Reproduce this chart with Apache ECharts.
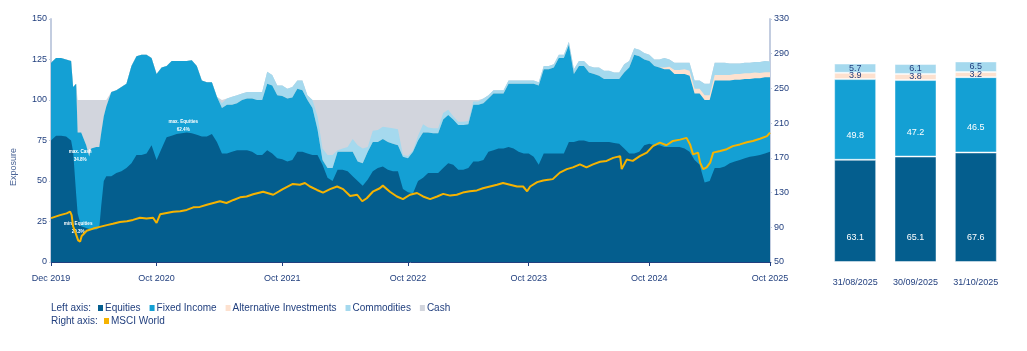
<!DOCTYPE html>
<html>
<head>
<meta charset="utf-8">
<script src="https://cdn.jsdelivr.net/npm/echarts@6/dist/echarts.min.js"></script>
<style>
html,body{margin:0;padding:0;background:#fff;}
#chart{width:1027px;height:351px;}
</style>
</head>
<body>
<div id="chart"></div>
<script>
// x axis: period index (about half a month each), Dec 2019 = 0, Oct 2025 = 143
var period = [
  0, 1, 2, 3, 4, 4.4, 5, 5.3, 6, 7, 7.6, 8, 9, 9.6, 10, 10.5, 11, 12,
  13, 14, 15, 16, 17, 18, 19, 20, 21, 22, 23, 24, 25, 26, 27, 28, 29, 30, 31, 32, 33,
  34, 35, 36, 37, 38, 39, 40, 41, 42, 43, 44, 45, 46, 47, 48, 49, 50, 51, 52, 53,
  54, 55, 56, 57, 58, 59, 60, 61, 62, 63, 64, 65, 66, 67, 68, 69, 70, 71, 72, 73, 74, 75, 76, 77, 78, 79, 80, 81, 82, 83,
  84, 85, 86, 87, 88, 89, 90, 91, 92, 93, 94, 95, 96, 97, 98, 99, 100, 101, 102, 103,
  104, 105, 106, 107, 108, 109, 110, 111, 112, 113, 114, 115, 116, 117, 118, 119, 120, 121,
  122, 123, 124, 125, 126, 127, 128, 129, 130, 131, 132, 133, 134, 135, 136, 137, 138, 139, 140, 141, 142, 143
];
var equities = [
  75, 78, 78, 77.5, 75, 68, 42, 30, 22, 21, 20.3, 20, 20, 21, 35, 50, 53, 53,
  55, 56, 58, 61, 66, 66, 67, 72, 63, 70, 77, 78, 79, 79.5, 80, 79.5, 78.5, 77.5, 77.5, 79, 74,
  67, 67, 68, 69, 69, 69, 68, 66, 66, 69, 67, 64, 63.5, 62, 63, 68, 68, 67, 66, 66,
  60, 52, 50, 57, 57, 56, 53, 50, 47, 51, 56, 58, 59, 57, 56, 56, 45, 43, 42.5, 50, 52, 55, 55, 55, 58, 61, 60, 57, 57, 58,
  62, 62, 63, 68, 69, 70, 70, 71, 70, 68, 67, 67, 65, 60, 67, 67, 67, 67, 67, 74,
  74, 75, 75, 74, 74, 74, 74, 74, 73.5, 73, 70, 67, 67, 68, 72, 73, 72, 72,
  71, 71, 71, 71, 70, 68, 63, 60, 49, 50, 58, 58, 59, 61, 62, 63, 64, 65, 65.5, 66, 67, 68
];
var fixedIncome = [
  48, 48, 48, 47.5, 49, 40, 68, 50, 58, 51, 44.9, 50, 51, 50, 45, 40, 43, 52,
  51, 52, 52, 60, 61, 62, 61, 54, 53, 50, 44, 46, 45, 44.5, 44, 45, 42.5, 34.5, 33.5, 32, 28,
  28, 30, 29, 29, 31, 32, 33, 34, 34, 41, 42, 39, 39, 39, 38.5, 39, 38, 33, 29, 16,
  3, 6, 8, 11, 11, 12, 15, 12, 14, 17, 18, 16, 17, 17, 17, 16, 20, 21, 25.5, 25, 28, 25, 24.5, 24.5, 30, 29.7, 28, 27.6, 27.6, 27,
  35, 35, 35, 33, 35, 34, 34, 39, 40, 42, 43, 43, 45, 49, 52, 52, 53, 59, 59, 60,
  42, 46, 46, 43, 42, 41, 39, 39, 39.5, 40, 47, 53, 61, 59, 53, 51, 49, 48,
  48, 48, 45, 45, 46, 47, 41, 44, 51, 50, 54, 54, 53, 51, 50.5, 49.5, 49, 48, 48, 47.5, 47, 46
];
var altInvest = [
  0, 0, 0, 0, 0, 0, 0, 0, 0, 0, 0, 0, 0, 0, 0, 0, 0, 0,
  0, 0, 0, 0, 0, 0, 0, 0, 0, 0, 0, 0, 0, 0, 0, 0, 0, 0, 0, 0, 0,
  0, 0, 0, 0, 0, 0, 0, 0, 0, 0, 0, 0, 0, 0, 0, 0, 0, 0, 0, 0,
  0, 0, 0, 0, 0, 0, 0, 0, 0, 0, 0, 0, 0, 0, 0, 0, 0, 0, 0, 0, 0, 0, 0, 0, 0, 0, 0, 0, 0, 0,
  0, 0, 0, 0, 0, 0, 0, 0, 0, 0, 0, 0, 0, 0, 0, 0, 0, 0, 0, 0,
  0, 0, 0, 0, 0, 0, 0, 0, 0, 0, 0, 0, 0, 0, 0, 0, 0, 0,
  1, 1.5, 2.5, 2.5, 3, 3, 3, 3, 3, 3, 3.5, 3.5, 3.5, 3.5, 3.5, 3.5, 3.5, 3.5, 3.5, 3.2, 3.2, 3.2
];
var commodities = [
  0, 0, 0, 0, 0, 0, 0, 0, 0, 0, 0, 0, 0, 0, 0, 0, 0, 0,
  0, 0, 0, 0, 0, 0, 0, 0, 0, 0, 0, 0, 0, 0, 0, 0, 0, 0, 0, 0, 0,
  3, 4, 5, 5, 4, 4, 4, 5, 5, 7.5, 6.5, 6, 6.5, 6, 6.5, 5, 6, 3, 5, 8,
  7, 8, 8, 1, 2, 3, 8, 10, 9, 3, 7, 7.5, 7.5, 9, 9.5, 10, 1, 1.5, 1, 3, 5, 3, 3, 3, 4, 3.3, 2, 2, 2, 2,
  2, 2, 3, 2, 2, 2, 2, 2, 2, 2, 2, 2, 2, 2, 2, 2, 2, 2, 2, 2,
  3, 3, 3, 4, 4, 5, 5, 5, 4, 4, 5, 4, 4, 4, 4, 4, 4, 5,
  6, 4.5, 4.5, 4.5, 4, 5, 5, 5, 7, 7, 7.5, 7.5, 7.5, 7, 6.5, 6.5, 6.5, 6.5, 6.5, 6.8, 6.8, 6.6
];
var cash = [
  0, 0, 0, 0, 0, 0, 0, 20, 20, 28, 34.8, 30, 29, 29, 20, 10, 4, 0,
  0, 0, 0, 0, 0, 0, 0, 0, 0, 0, 0, 0, 0, 0, 0, 0, 0, 0, 0, 0, 0,
  2, 0, 0, 0, 0, 0, 0, 0, 0, 0, 0, 0, 0, 0, 0, 0, 0, 0, 0, 10,
  30, 34, 34, 31, 30, 29, 24, 28, 30, 29, 19, 18.5, 16.5, 17, 17.5, 18, 34, 34.5, 31, 22, 15, 17, 17.5, 17.5, 8, 6, 10, 13.4, 13.4, 13,
  1, 1, 0, 0, 0, 0, 0, 0, 0, 0, 0, 0, 0, 0, 0, 0, 0, 0, 0, 0,
  0, 0, 0, 0, 0, 0, 0, 0, 0, 0, 0, 0, 0, 0, 0, 0, 0, 0,
  0, 0, 0, 0, 0, 0, 0, 0, 0, 0, 0, 0, 0, 0, 0, 0, 0, 0, 0, 0, 0, 0
];

// MSCI World, right axis
var msciPeriod = [
  0, 1.8, 3.1, 3.8, 4.1, 4.4, 4.8, 5.1, 5.4, 5.8, 6.1, 6.4, 7.1, 8.4, 9.7, 11.1, 12.3, 13.7, 15.1, 16.3,
  17.7, 19, 20.3, 21, 21.7, 23, 24.3, 25.7, 27, 28.3, 29.6, 31, 32.3, 33.6, 34.9, 36.3, 37.6, 38.9, 40.2, 42.2,
  44.2, 46.1, 48.1, 49.5, 50.5, 51.5, 52.9, 54.1, 55.5, 56.9, 58.1, 59.5, 60.9, 61.9, 62.8, 64, 65.4, 66, 67.4, 68.8,
  70, 71.4, 72.8, 74, 75.4, 76.8, 78, 79.4, 80.7, 81.9, 83.3, 84.7, 85.9, 87.3, 88.7, 89.9, 91.3, 92.7, 93.9, 94.7,
  95.3, 96.7, 97.9, 99.2, 99.8, 101.2, 102.6, 103.8, 105.2, 106.5, 107.8, 109.2, 110.5, 111.8, 113.2, 113.5, 114.5, 115.7, 117.1, 118.5,
  119.7, 121.1, 122.4, 123.7, 125.1, 126.4, 127.1, 127.7, 128.7, 129.1, 129.7, 130.4, 131.1, 131.7, 133.1, 134.4, 135.6, 137, 138.4, 139.6,
  141, 142.4, 143
];
var msciValue = [
  100.5, 104, 106, 108, 104, 91, 85, 83, 75, 73.5, 80, 78, 86, 88.5, 90.5, 92.5, 94, 96, 97, 98.5,
  101, 100, 101, 95, 105, 106.5, 108, 108.5, 110, 113, 113.5, 116, 118, 120, 118, 121.5, 124.5, 125.5, 128, 131,
  127.5, 134, 140, 139, 141, 137, 133, 130, 134, 137, 134, 126, 127.5, 120, 123.5, 131, 135, 138, 131, 125.5,
  122.5, 127.5, 129.5, 125.5, 122.5, 125.5, 128.5, 126.5, 127.5, 130, 131.5, 132.5, 135, 137, 139, 141, 139, 137, 137, 131.5,
  137, 142, 144, 145, 145.5, 153, 157, 159, 162.5, 159, 162.5, 165.5, 166.5, 170, 172, 157, 168, 166.5, 172, 176,
  183.5, 187.5, 184.5, 189.5, 191, 193, 185.5, 174, 176, 164.5, 157, 159, 164.5, 176, 178, 180, 183.5, 185.5, 188, 189.5,
  192, 195, 199
];

var xTickAt = [0, 21, 46, 71, 95, 119, 143];
var xTickText = ['Dec 2019', 'Oct 2020', 'Oct 2021', 'Oct 2022', 'Oct 2023', 'Oct 2024', 'Oct 2025'];

// month-end snapshot bars
var barDates = ['31/08/2025', '30/09/2025', '31/10/2025'];
var barEquities = [63.1, 65.1, 67.6];
var barFixedIncome = [49.8, 47.2, 46.5];
var barAltInvest = [3.9, 3.8, 3.2];
var barCommodities = [5.7, 6.1, 6.5];

var txt = '#213f7e';
var font = 'Liberation Sans, Arial, sans-serif';
var colors = {
    'Equities': '#045e8e',
    'Fixed Income': '#14a0d4',
    'Alternative Investments': '#fde1cf',
    'Commodities': '#a5d9ee',
    'Cash': '#d2d5dd',
    'MSCI World': '#f6b300'
};

// stack the exposure layers (bottom to top) into running tops
var layerNames = ['Equities', 'Fixed Income', 'Alternative Investments', 'Commodities', 'Cash'];
var layerValues = [equities, fixedIncome, altInvest, commodities, cash];
var running = period.map(function(){ return 0; });
var layerTops = layerValues.map(function(vals){
    running = running.map(function(s, i){ return s + vals[i]; });
    return running.slice();
});

function pairs(xs, ys){
    return xs.map(function(x, i){ return [x, ys[i]]; });
}

function area(k){
    var name = layerNames[k];
    return {
        name: name, type: 'line', xAxisIndex: 0, yAxisIndex: 0,
        data: pairs(period, layerTops[k]), symbol: 'none', silent: true,
        lineStyle: {width: 0}, itemStyle: {color: colors[name]},
        areaStyle: {color: colors[name], opacity: 1, origin: 'start'}
    };
}

function bar(name, values, labelColor, inBottom){
    return {
        name: name, type: 'bar', stack: 'bar', xAxisIndex: 1, yAxisIndex: 2,
        data: values, barWidth: 42, silent: true,
        itemStyle: {color: colors[name], borderColor: 'rgba(255,255,255,0.45)', borderWidth: 1},
        label: {
            show: true, color: labelColor, fontSize: 9, fontFamily: font,
            position: inBottom ? 'insideBottom' : 'inside', distance: inBottom ? 20 : 0
        }
    };
}

// top layer first, so lower layers paint over it
var areaSeries = [4, 3, 2, 1, 0].map(area);
areaSeries[4].markPoint = {
    symbol: 'circle', symbolSize: 1, silent: true,
    itemStyle: {color: 'rgba(0,0,0,0)'},
    label: {show: true, position: 'inside', color: '#fff', fontSize: 4.6, fontWeight: 'bold', lineHeight: 7.5, fontFamily: font},
    data: [
        {coord: [5.8, 65.7], label: {formatter: 'max. Cash\n34.8%'}},
        {coord: [5.4, 21.3], label: {formatter: 'min. Equities\n20.3%'}},
        {coord: [26.3, 84], label: {formatter: 'max. Equities\n62.4%'}}
    ]
};

var chart = echarts.init(document.getElementById('chart'));
chart.setOption({
    animation: false,
    textStyle: {fontFamily: font},
    grid: [
        {left: 51, right: 257, top: 19, bottom: 89},
        {left: 825, right: 21, top: 19, bottom: 89}
    ],
    legend: [
        {
            left: 98, top: 303, icon: 'rect', itemWidth: 5, itemHeight: 6, itemGap: 9,
            selectedMode: false, padding: 0,
            textStyle: {color: txt, fontSize: 10, fontFamily: font, padding: [0, 0, 0, -3]},
            data: ['Equities', 'Fixed Income', 'Alternative Investments', 'Commodities', 'Cash']
        },
        {
            left: 104, top: 316, icon: 'rect', itemWidth: 5, itemHeight: 6,
            selectedMode: false, padding: 0,
            textStyle: {color: txt, fontSize: 10, fontFamily: font, padding: [0, 0, 0, -3]},
            data: ['MSCI World']
        }
    ],
    graphic: [
        {type: 'text', left: 51, top: 303, style: {text: 'Left axis:', fill: txt, fontSize: 10, fontFamily: font}},
        {type: 'text', left: 51, top: 316, style: {text: 'Right axis:', fill: txt, fontSize: 10, fontFamily: font}},
        {type: 'text', x: 14, y: 167, rotation: Math.PI / 2, style: {text: 'Exposure', fill: '#4a6496', fontSize: 9, fontFamily: font, align: 'center', verticalAlign: 'middle'}}
    ],
    xAxis: [
        {
            type: 'value', gridIndex: 0, min: 0, max: 143,
            splitLine: {show: false},
            axisLine: {lineStyle: {color: txt, width: 1}},
            axisTick: {show: true, customValues: xTickAt, length: 4, lineStyle: {color: txt}},
            axisLabel: {
                customValues: xTickAt, color: txt, fontSize: 9, margin: 12,
                formatter: function(v){ var k = xTickAt.indexOf(v); return k < 0 ? '' : xTickText[k]; }
            }
        },
        {
            type: 'category', gridIndex: 1, data: barDates,
            axisLine: {show: false}, axisTick: {show: false},
            axisLabel: {color: txt, fontSize: 9, margin: 16}
        }
    ],
    yAxis: [
        {
            type: 'value', gridIndex: 0, min: 0, max: 150, interval: 25,
            splitLine: {show: false},
            axisLine: {show: true, lineStyle: {color: '#c3cde0', width: 2}},
            axisTick: {show: true, length: 2, lineStyle: {color: '#c3cde0'}},
            axisLabel: {color: txt, fontSize: 9, margin: 4}
        },
        {
            type: 'value', gridIndex: 0, position: 'right', min: 50, max: 330, interval: 40,
            splitLine: {show: false},
            axisLine: {show: true, lineStyle: {color: '#c3cde0', width: 2}},
            axisTick: {show: true, length: 2, lineStyle: {color: '#c3cde0'}},
            axisLabel: {color: txt, fontSize: 9, margin: 4}
        },
        {type: 'value', gridIndex: 1, min: 0, max: 150, show: false}
    ],
    series: areaSeries.concat([
        {
            name: 'MSCI World', type: 'line', xAxisIndex: 0, yAxisIndex: 1,
            data: pairs(msciPeriod, msciValue), symbol: 'none', silent: true, z: 5,
            lineStyle: {color: colors['MSCI World'], width: 2},
            itemStyle: {color: colors['MSCI World']}
        },
        bar('Equities', barEquities, '#ffffff', true),
        bar('Fixed Income', barFixedIncome, '#ffffff', true),
        bar('Alternative Investments', barAltInvest, txt, false),
        bar('Commodities', barCommodities, txt, false)
    ])
});
</script>
</body>
</html>
